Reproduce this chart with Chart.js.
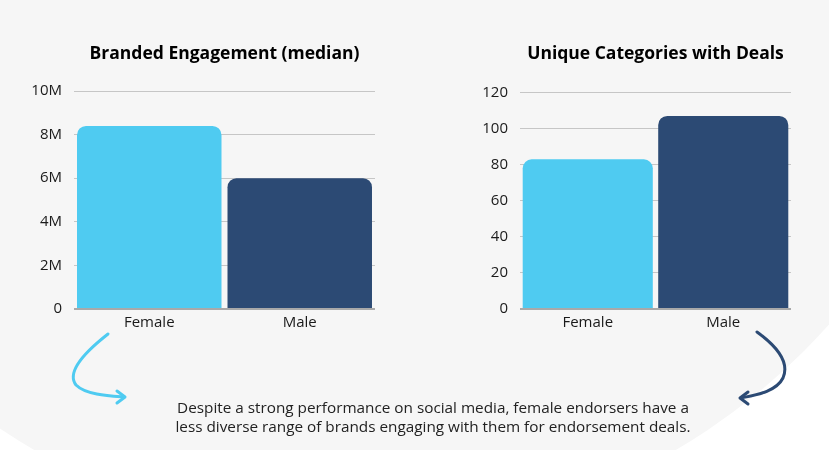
<!DOCTYPE html>
<html>
<head>
<meta charset="utf-8">
<script src="https://cdn.jsdelivr.net/npm/chart.js@4.4.1/dist/chart.umd.min.js"></script>
<style>
    body { margin: 0; width: 829px; height: 450px; overflow: hidden; background: #ffffff; position: relative; font-family: 'Open Sans', sans-serif; }
    .bg { position: absolute; left: -280px; top: -733px; width: 1270px; height: 1270px; border-radius: 50%; background: #f6f6f6; }
    #engagementChart { position: absolute; left: 0; top: 0; }
    #categoriesChart { position: absolute; left: 420px; top: 0; }
    svg { position: absolute; left: 0; top: 0; }
    .note { position: absolute; left: 83px; top: 398px; width: 700px; text-align: center; font-size: 15.3px; line-height: 19px; color: #222; }
</style>
</head>
<body>
<div class="bg"></div>
<canvas id="engagementChart" width="410" height="345"></canvas>
<canvas id="categoriesChart" width="409" height="345"></canvas>
<svg width="829" height="450">
    <g fill="none" stroke-width="3" stroke-linecap="round" stroke-linejoin="round">
        <path d="M108,334 C85,352 66,372 76,385 C86,395 110,396 124,397" stroke="#4fcbf1"/>
        <path d="M117,391 L125,397 L117,403" stroke="#4fcbf1"/>
        <path d="M757,332 C775,345 790,362 783,378 C776,392 755,395 741,398" stroke="#2c4a74"/>
        <path d="M748,392 L740,398 L748,404" stroke="#2c4a74"/>
    </g>
</svg>
<div class="note">Despite a strong performance on social media, female endorsers have a<br>less diverse range of brands engaging with them for endorsement deals.</div>
<script>
const categories = ['Female', 'Male'];
const engagement = [8400000, 6000000];
const engagementTicks = ['0', '2M', '4M', '6M', '8M', '10M'];
const uniqueCategories = [83, 107];
const barColors = ['#4fcbf1', '#2c4a74'];

Chart.defaults.font.family = "'Open Sans', sans-serif";
Chart.defaults.color = '#1a1a1a';

// both charts look the same, only the data and the axis change
const makeChart = (id, title, data, yMax, yStep, tickLabel, yWidth, padRight, titleBottom) => {
    const ctx = document.getElementById(id).getContext('2d');
    return new Chart(ctx, {
        type: 'bar',
        data: {
            labels: categories,
            datasets: [
                {
                    data: data,
                    backgroundColor: barColors,
                    borderRadius: { topLeft: 9, topRight: 9 },
                    borderSkipped: 'bottom',
                    barPercentage: 0.96,
                    categoryPercentage: 1
                }
            ]
        },
        options: {
            responsive: false,
            animation: false,
            layout: { padding: { left: 0, right: padRight, top: 0, bottom: 0 } },
            plugins: {
                legend: { display: false },
                tooltip: { enabled: false },
                title: {
                    display: true,
                    text: title,
                    fullSize: false,
                    color: '#000',
                    font: { size: 17.5, weight: 'bold' },
                    padding: { top: 44, bottom: titleBottom }
                }
            },
            scales: {
                x: {
                    grid: { display: false, drawTicks: false },
                    border: { display: false },
                    ticks: { font: { size: 15 }, padding: 5 },
                    afterFit: s => { s.height = 36; }
                },
                y: {
                    min: 0,
                    max: yMax,
                    border: { display: false },
                    grid: {
                        drawTicks: false,
                        color: c => (c.tick.value === 0 ? '#a9a9a9' : '#c6c6c6'),
                        lineWidth: c => (c.tick.value === 0 ? 2 : 1)
                    },
                    ticks: {
                        stepSize: yStep,
                        padding: 12,
                        font: { size: 15 },
                        callback: tickLabel
                    },
                    afterFit: s => { s.width = yWidth; }
                }
            }
        }
    });
};

makeChart('engagementChart', 'Branded Engagement (median)', engagement, 10000000, 2000000,
    (v, i) => engagementTicks[i], 74, 35, 26);
makeChart('categoriesChart', 'Unique Categories with Deals', uniqueCategories, 120, 20,
    v => v, 100, 38, 27.5);
</script>
</body>
</html>
